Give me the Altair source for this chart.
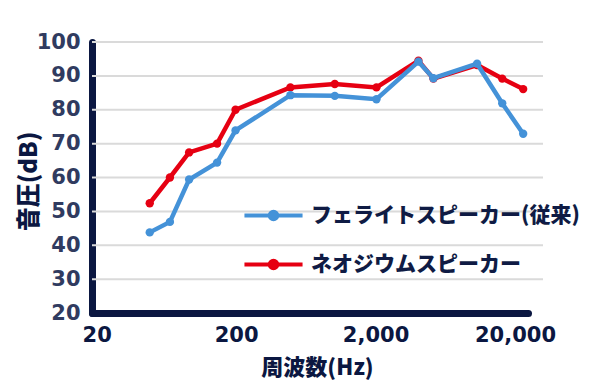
import altair as alt
import pandas as pd

# ---- data ----
freq = [48, 67, 92, 146, 198, 490, 1020, 2030, 4060, 5200, 10700, 16200, 22900]
ferrite = [43.8, 46.9, 59.4, 64.4, 73.9, 84.3, 84.1, 83.1, 94.2, 89.3, 93.6, 81.9, 72.9]
neodym = [52.4, 60.0, 67.4, 70.0, 80.0, 86.6, 87.6, 86.6, 94.5, 89.2, 93.2, 89.2, 86.1]
series_names = ["フェライトスピーカー(従来)", "ネオジウムスピーカー"]
series_colors = ["#4492d8", "#e60012"]
x_ticks = [20, 200, 2000, 20000]
y_ticks = [20, 30, 40, 50, 60, 70, 80, 90, 100]
grid_vals = [30, 40, 50, 60, 70, 80, 90, 100]

rows = []
for f, v in zip(freq, neodym):
    rows.append({"f": f, "v": v, "s": series_names[1]})
for f, v in zip(freq, ferrite):
    rows.append({"f": f, "v": v, "s": series_names[0]})
df = pd.DataFrame(rows)
grid_df = pd.DataFrame({"g": grid_vals})

NAVY = "#0b1741"
W, H = 436, 271

xscale = alt.Scale(type="log", domain=[18.5, 24800], nice=False)
yscale = alt.Scale(domain=[20, 100], nice=False, zero=False)

legend_path = ("M-5,0H5"
               "M0.65,0A0.65,0.65,0,1,1,-0.65,0A0.65,0.65,0,1,1,0.65,0"
               "M0.3,0A0.3,0.3,0,1,1,-0.3,0A0.3,0.3,0,1,1,0.3,0")

color = alt.Color(
    "s:N",
    scale=alt.Scale(domain=series_names, range=series_colors),
    sort=series_names,
    legend=alt.Legend(
        orient="none", legendX=171, legendY=163, title=None,
        symbolType=legend_path, symbolSize=135, symbolStrokeWidth=4,
        labelFont="Noto Sans CJK JP", labelFontSize=21, labelFontWeight=900,
        labelColor="#0f1b44", labelOffset=27, rowPadding=24, padding=0,
        symbolOffset=0, labelLimit=400,
    ),
)

x_axis = alt.Axis(
    values=x_ticks, format=",", title="周波数(Hz)",
    labelFont="DejaVu Sans", labelFontSize=21, labelFontWeight="bold",
    labelColor=NAVY, labelPadding=11,
    titleFont="Noto Sans CJK JP", titleFontSize=22, titleFontWeight=900,
    titleColor=NAVY, titleX=225, titleY=54, titleBaseline="middle",
    titleAlign="center",
)
y_axis = alt.Axis(
    values=y_ticks, title="音圧(dB)",
    labelFont="DejaVu Sans", labelFontSize=21, labelFontWeight="bold",
    labelColor="#303b60", labelPadding=12,
    titleFont="Noto Sans CJK JP", titleFontSize=24, titleFontWeight=900,
    titleColor=NAVY, titleX=-63, titleY=139, titleAngle=270,
    titleBaseline="middle", titleAlign="center",
)
x_enc = alt.X("f:Q", scale=xscale, axis=x_axis)
y_enc = alt.Y("v:Q", scale=yscale, axis=y_axis)

grid = alt.Chart(grid_df).mark_rule(color="#dadada", strokeWidth=2).encode(
    y=alt.Y("g:Q", scale=yscale, axis=y_axis),
    x=alt.value(0), x2=alt.value(451),
)

layers = [grid]
for name in [series_names[1], series_names[0]]:
    base = alt.Chart(df).transform_filter(alt.datum.s == name)
    line = base.mark_line(strokeWidth=4.5).encode(x=x_enc, y=y_enc, color=color)
    pts = base.mark_point(filled=True, size=70, opacity=1).encode(x=x_enc, y=y_enc, color=color)
    layers += [line, pts]

chart = alt.layer(*layers).properties(
    width=W, height=H,
    autosize=alt.AutoSizeParams(type="none"),
    padding={"left": 84, "top": 34, "right": 64, "bottom": 69},
).configure_view(stroke=None).configure_axis(
    grid=False, ticks=False, domainWidth=7, domainColor=NAVY, domainCap="round",
)

chart.save("out.html", embed_options={"renderer": "svg", "actions": False})
